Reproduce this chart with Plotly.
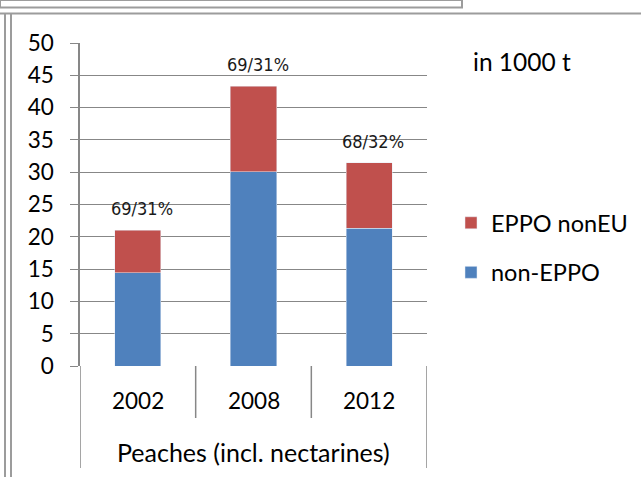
import plotly.graph_objects as go

# ---- data ----
years = ["2002", "2008", "2012"]
non_eppo = [14.4, 30.1, 21.3]
eppo_noneu = [6.6, 13.2, 10.2]
share_labels = ["69/31%", "69/31%", "68/32%"]
group_label = "Peaches (incl. nectarines)"
unit_label = "in 1000 t"
y_ticks = [0, 5, 10, 15, 20, 25, 30, 35, 40, 45, 50]

W, H = 641, 477
BLUE = "#4F81BD"
RED = "#C0504D"
GRID = "#878787"
FRAME = "#9c9c9c"
FONT = "Lato, 'Open Sans', sans-serif"
NARROW = "'Liberation Sans Narrow', 'DejaVu Sans Condensed', 'Liberation Sans', sans-serif"

def px_x(x):
    return x / W

def px_y(y):
    return 1 - y / H

x0, x1 = px_x(80), px_x(427)
y0, y1 = px_y(366), px_y(43)

fig = go.Figure()
fig.add_trace(go.Bar(x=years, y=non_eppo, name="non-EPPO", marker_color=BLUE,
                     legendgroup="a", legendrank=2))
fig.add_trace(go.Bar(x=years, y=eppo_noneu, name="EPPO nonEU", marker_color=RED,
                     legendgroup="b", legendrank=1))

totals = [a + b for a, b in zip(non_eppo, eppo_noneu)]
annotations = []
for i, (tot, lab) in enumerate(zip(totals, share_labels)):
    annotations.append(dict(x=i, y=tot, xref="x", yref="y", text=lab, showarrow=False,
                            yanchor="bottom", yshift=9, xshift=4,
                            font=dict(family=NARROW, size=18, color="#1a1a1a")))
for i, yr in enumerate(years):
    annotations.append(dict(x=i, y=px_y(400), xref="x", yref="paper", text=yr,
                            showarrow=False, yanchor="middle",
                            font=dict(family=FONT, size=22.5, color="black")))
annotations.append(dict(x=1, y=px_y(452), xref="x", yref="paper", text=group_label,
                        showarrow=False, yanchor="middle",
                        font=dict(family=FONT, size=25, color="black")))
annotations.append(dict(x=px_x(471), y=px_y(61), xref="paper", yref="paper",
                        text=unit_label, showarrow=False, xanchor="left", yanchor="middle",
                        font=dict(family=FONT, size=24.5, color="black")))

shapes = []
line_style = dict(color=GRID, width=1.5)
# category frame lines
for xb, ybot in [(-0.5, 468), (0.5, 418), (1.5, 418), (2.5, 468)]:
    shapes.append(dict(type="line", xref="x", yref="paper", x0=xb, x1=xb,
                       y0=y0, y1=px_y(ybot), line=line_style))
# outer frame
fr = dict(color=FRAME, width=2)
shapes.append(dict(type="line", xref="paper", yref="paper", x0=0, x1=1,
                   y0=px_y(13.5), y1=px_y(13.5), line=fr))
shapes.append(dict(type="line", xref="paper", yref="paper", x0=px_x(5), x1=px_x(5),
                   y0=px_y(13.5), y1=0, line=fr))
shapes.append(dict(type="line", xref="paper", yref="paper", x0=px_x(11), x1=px_x(11),
                   y0=px_y(13.5), y1=0, line=fr))
shapes.append(dict(type="rect", xref="paper", yref="paper", x0=0, x1=px_x(462),
                   y0=px_y(7.5), y1=1, line=fr, fillcolor="rgba(0,0,0,0)"))

fig.update_layout(
    width=W, height=H,
    margin=dict(l=0, r=0, t=0, b=0, pad=0, autoexpand=False),
    paper_bgcolor="white", plot_bgcolor="white",
    barmode="stack", bargap=0.6,
    showlegend=True,
    legend=dict(x=px_x(451), y=px_y(201), xanchor="left", yanchor="top",
                traceorder="grouped", tracegroupgap=16,
                font=dict(family=FONT, size=23.5, color="black"),
                bgcolor="rgba(0,0,0,0)"),
    xaxis=dict(domain=[x0, x1], type="category", showticklabels=False,
               showgrid=False, zeroline=False, showline=False, ticks="",
               range=[-0.5, 2.5]),
    yaxis=dict(domain=[y0, y1], range=[0, 50], tickvals=y_ticks,
               showgrid=True, gridcolor=GRID, gridwidth=1,
               zeroline=False, showline=True, linecolor=GRID, linewidth=1.5,
               ticks="outside", ticklen=8, tickcolor=GRID, tickwidth=1,
               ticklabelstandoff=12,
               tickfont=dict(family=FONT, size=22.5, color="black")),
    annotations=annotations,
    shapes=shapes,
)

fig.write_html("out.html", config={"displayModeBar": False},
               post_script="document.body.style.margin='0';")
